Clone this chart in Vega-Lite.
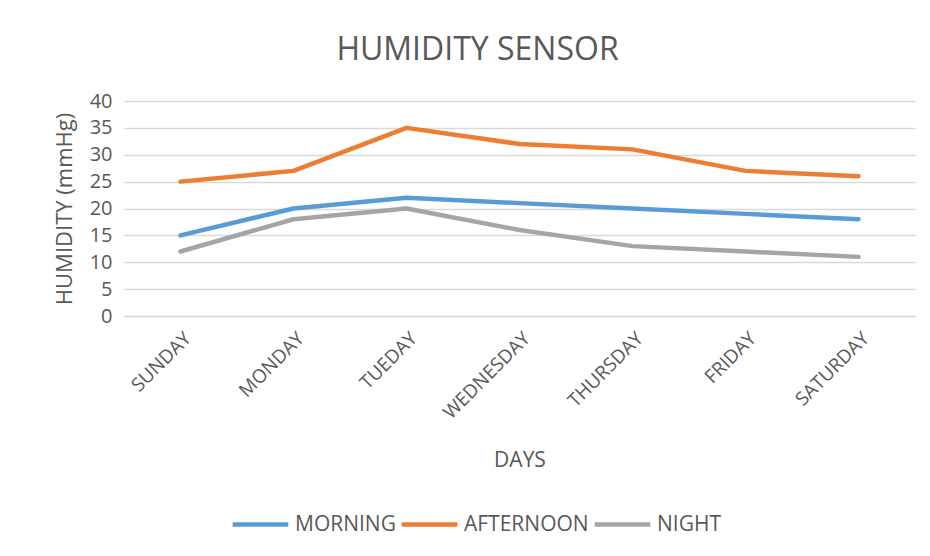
{
  "$schema": "https://vega.github.io/schema/vega-lite/v6.json",
  "autosize": {"type": "none"},
  "width": 791,
  "height": 215,
  "padding": {"left": 124, "top": 101, "right": 15, "bottom": 240},
  "background": "white",
  "title": {
    "text": "HUMIDITY SENSOR",
    "font": "Open Sans",
    "fontSize": 32,
    "fontWeight": "normal",
    "color": "#595959",
    "anchor": "middle",
    "dx": -42,
    "offset": 24
  },
  "data": {
    "values": [
      {"day": "SUNDAY", "series": "MORNING", "value": 15},
      {"day": "MONDAY", "series": "MORNING", "value": 20},
      {"day": "TUEDAY", "series": "MORNING", "value": 22},
      {"day": "WEDNESDAY", "series": "MORNING", "value": 21},
      {"day": "THURSDAY", "series": "MORNING", "value": 20},
      {"day": "FRIDAY", "series": "MORNING", "value": 19},
      {"day": "SATURDAY", "series": "MORNING", "value": 18},
      {"day": "SUNDAY", "series": "AFTERNOON", "value": 25},
      {"day": "MONDAY", "series": "AFTERNOON", "value": 27},
      {"day": "TUEDAY", "series": "AFTERNOON", "value": 35},
      {"day": "WEDNESDAY", "series": "AFTERNOON", "value": 32},
      {"day": "THURSDAY", "series": "AFTERNOON", "value": 31},
      {"day": "FRIDAY", "series": "AFTERNOON", "value": 27},
      {"day": "SATURDAY", "series": "AFTERNOON", "value": 26},
      {"day": "SUNDAY", "series": "NIGHT", "value": 12},
      {"day": "MONDAY", "series": "NIGHT", "value": 18},
      {"day": "TUEDAY", "series": "NIGHT", "value": 20},
      {"day": "WEDNESDAY", "series": "NIGHT", "value": 16},
      {"day": "THURSDAY", "series": "NIGHT", "value": 13},
      {"day": "FRIDAY", "series": "NIGHT", "value": 12},
      {"day": "SATURDAY", "series": "NIGHT", "value": 11}
    ]
  },
  "mark": {"type": "line", "strokeWidth": 4.5, "strokeCap": "round", "strokeJoin": "round"},
  "encoding": {
    "x": {
      "field": "day",
      "type": "nominal",
      "sort": ["SUNDAY", "MONDAY", "TUEDAY", "WEDNESDAY", "THURSDAY", "FRIDAY", "SATURDAY"],
      "scale": {"type": "point", "padding": 0.5},
      "axis": {
        "title": "DAYS",
        "titleFont": "Open Sans",
        "titleFontSize": 21,
        "titleFontWeight": "normal",
        "titleColor": "#595959",
        "titlePadding": 27,
        "labelAngle": -45,
        "labelAlign": "right",
        "labelBaseline": "middle",
        "labelFont": "Open Sans",
        "labelFontSize": 19,
        "labelColor": "#595959",
        "labelPadding": 19,
        "labelOffset": 7,
        "ticks": false,
        "domainColor": "#d9d9d9",
        "domainWidth": 1.5,
        "grid": false
      }
    },
    "y": {
      "field": "value",
      "type": "quantitative",
      "scale": {"domain": [0, 40], "nice": false},
      "axis": {
        "title": "HUMIDITY (mmHg)",
        "titleFont": "Open Sans",
        "titleFontSize": 22,
        "titleFontWeight": "normal",
        "titleColor": "#595959",
        "titlePadding": 13,
        "values": [0, 5, 10, 15, 20, 25, 30, 35, 40],
        "labelFont": "Open Sans",
        "labelFontSize": 20,
        "labelColor": "#595959",
        "labelPadding": 12,
        "ticks": false,
        "domain": false,
        "grid": true,
        "gridColor": "#d9d9d9",
        "gridWidth": 1.5
      }
    },
    "color": {
      "field": "series",
      "type": "nominal",
      "sort": ["MORNING", "AFTERNOON", "NIGHT"],
      "scale": {"domain": ["MORNING", "AFTERNOON", "NIGHT"], "range": ["#5b9bd5", "#ed7d31", "#a5a5a5"]},
      "legend": {
        "title": null,
        "orient": "none",
        "direction": "horizontal",
        "legendX": 106,
        "legendY": 393,
        "gridAlign": "none",
        "symbolType": "stroke",
        "symbolSize": 3100,
        "symbolStrokeWidth": 4.5,
        "labelFont": "Open Sans",
        "labelFontSize": 21,
        "labelColor": "#595959",
        "labelOffset": 4,
        "columnPadding": -4
      }
    }
  },
  "config": {"view": {"stroke": null}}
}
